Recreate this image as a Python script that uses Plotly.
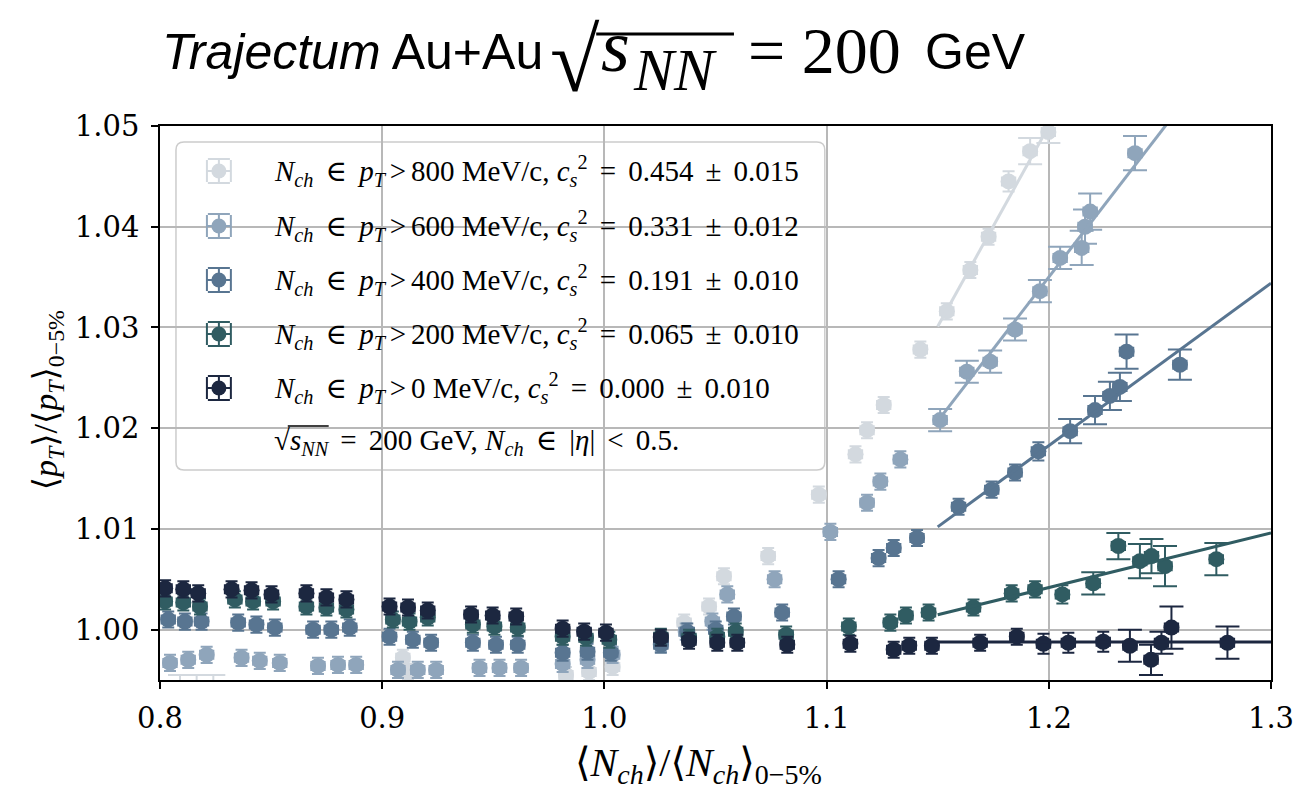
import plotly.graph_objects as go

# ---------------- data ----------------
labels = ["800", "600", "400", "200", "0"]
cs2_text = ["0.454 ± 0.015", "0.331 ± 0.012", "0.191 ± 0.010", "0.065 ± 0.010", "0.000 ± 0.010"]
colors = ["#d3d9df", "#8fa5bb", "#587591", "#305c62", "#1c2740"]

x_800 = [0.8090, 0.8165, 0.8240, 0.9093, 0.9116, 0.9827, 0.9931, 1.0037, 1.0359, 1.0471, 1.0538,
         1.0737, 1.0965, 1.1130, 1.1182, 1.1257, 1.1422, 1.1541, 1.1647, 1.1729, 1.1819, 1.1916, 1.1998]
y_800 = [0.9942, 0.9942, 0.9942, 0.9972, 0.9958, 0.9955, 0.9958, 0.9963, 1.0007, 1.0023, 1.0053,
         1.0073, 1.0134, 1.0174, 1.0198, 1.0223, 1.0278, 1.0316, 1.0357, 1.0390, 1.0445, 1.0475, 1.0494]
ye_800 = [0.0013, 0.0013, 0.0013, 0.0008, 0.0008, 0.0008, 0.0008, 0.0008, 0.0008, 0.0008, 0.0008,
          0.0008, 0.0008, 0.0008, 0.0008, 0.0008, 0.0008, 0.0008, 0.0008, 0.0008, 0.0010, 0.0013, 0.0011]

x_600 = [0.8045, 0.8127, 0.8210, 0.8367, 0.8449, 0.8539, 0.8711, 0.8801, 0.8883, 0.9071, 0.9160, 0.9243,
         0.9438, 0.9528, 0.9625, 0.9812, 0.9924, 1.0037, 1.0254, 1.0366, 1.0486, 1.0553, 1.0766, 1.1017,
         1.1182, 1.1242, 1.1332, 1.1511, 1.1631, 1.1736, 1.1848, 1.1960, 1.2051, 1.2148, 1.2163, 1.2186, 1.2388]
y_600 = [0.9967, 0.9970, 0.9975, 0.9972, 0.9969, 0.9967, 0.9964, 0.9965, 0.9965, 0.9960, 0.9960, 0.9960,
         0.9962, 0.9962, 0.9962, 0.9966, 0.9970, 0.9975, 0.9986, 0.9998, 1.0008, 1.0035, 1.0050, 1.0097,
         1.0126, 1.0147, 1.0169, 1.0208, 1.0256, 1.0266, 1.0298, 1.0336, 1.0369, 1.0379, 1.0400, 1.0415, 1.0473]
ye_600 = [0.0008, 0.0008, 0.0008, 0.0008, 0.0008, 0.0008, 0.0008, 0.0008, 0.0008, 0.0008, 0.0008, 0.0008,
          0.0008, 0.0008, 0.0008, 0.0008, 0.0008, 0.0008, 0.0008, 0.0008, 0.0008, 0.0008, 0.0008, 0.0008,
          0.0008, 0.0008, 0.0008, 0.0011, 0.0011, 0.0011, 0.0011, 0.0011, 0.0011, 0.0017, 0.0017, 0.0018, 0.0017]

x_400 = [0.8037, 0.8112, 0.8187, 0.8352, 0.8434, 0.8517, 0.8689, 0.8771, 0.8854, 0.9033, 0.9138, 0.9220,
         0.9408, 0.9512, 0.9610, 0.9812, 0.9924, 1.0029, 1.0254, 1.0373, 1.0501, 1.0583, 1.0800, 1.1054,
         1.1234, 1.1302, 1.1407, 1.1594, 1.1743, 1.1848, 1.1953, 1.2096, 1.2208, 1.2275, 1.2320, 1.2350, 1.2590]
y_400 = [1.0010, 1.0008, 1.0008, 1.0007, 1.0005, 1.0002, 1.0000, 1.0000, 1.0002, 0.9993, 0.9990, 0.9987,
         0.9987, 0.9985, 0.9985, 0.9977, 0.9978, 0.9977, 0.9985, 0.9998, 1.0000, 1.0013, 1.0017, 1.0050,
         1.0071, 1.0081, 1.0091, 1.0122, 1.0139, 1.0156, 1.0177, 1.0197, 1.0218, 1.0232, 1.0241, 1.0276, 1.0263]
ye_400 = [0.0008, 0.0008, 0.0008, 0.0008, 0.0008, 0.0008, 0.0008, 0.0008, 0.0008, 0.0008, 0.0008, 0.0008,
          0.0008, 0.0008, 0.0008, 0.0008, 0.0008, 0.0008, 0.0008, 0.0008, 0.0008, 0.0008, 0.0008, 0.0008,
          0.0008, 0.0008, 0.0008, 0.0008, 0.0008, 0.0008, 0.0009, 0.0012, 0.0014, 0.0014, 0.0014, 0.0017, 0.0015]

x_200 = [0.8023, 0.8105, 0.8180, 0.8337, 0.8419, 0.8509, 0.8659, 0.8749, 0.8839, 0.9048, 0.9123, 0.9205,
         0.9408, 0.9505, 0.9610, 0.9812, 0.9917, 1.0022, 1.0254, 1.0381, 1.0508, 1.0591, 1.0818, 1.1100,
         1.1287, 1.1357, 1.1459, 1.1661, 1.1833, 1.1938, 1.2061, 1.2200, 1.2313, 1.2410, 1.2462, 1.2523, 1.2754]
y_200 = [1.0028, 1.0027, 1.0023, 1.0030, 1.0028, 1.0028, 1.0023, 1.0022, 1.0020, 1.0010, 1.0008, 1.0012,
         1.0005, 1.0003, 1.0002, 0.9993, 0.9992, 0.9990, 0.9993, 0.9992, 0.9993, 0.9998, 0.9995, 1.0003,
         1.0007, 1.0014, 1.0017, 1.0022, 1.0036, 1.0040, 1.0035, 1.0046, 1.0083, 1.0068, 1.0073, 1.0063, 1.0070]
ye_200 = [0.0008, 0.0008, 0.0008, 0.0008, 0.0008, 0.0008, 0.0008, 0.0008, 0.0008, 0.0008, 0.0008, 0.0008,
          0.0008, 0.0008, 0.0008, 0.0008, 0.0008, 0.0008, 0.0008, 0.0008, 0.0008, 0.0008, 0.0008, 0.0008,
          0.0008, 0.0008, 0.0008, 0.0008, 0.0008, 0.0008, 0.0009, 0.0011, 0.0013, 0.0017, 0.0017, 0.0020, 0.0016]

x_0 = [0.8023, 0.8105, 0.8172, 0.8322, 0.8412, 0.8502, 0.8659, 0.8749, 0.8839, 0.9033, 0.9116, 0.9205,
       0.9400, 0.9497, 0.9603, 0.9812, 0.9909, 1.0007, 1.0254, 1.0381, 1.0508, 1.0598, 1.0823, 1.1107,
       1.1302, 1.1372, 1.1474, 1.1691, 1.1856, 1.1976, 1.2088, 1.2245, 1.2365, 1.2460, 1.2507, 1.2552, 1.2804]
y_0 = [1.0041, 1.0040, 1.0036, 1.0040, 1.0039, 1.0035, 1.0036, 1.0032, 1.0030, 1.0023, 1.0022, 1.0019,
       1.0015, 1.0014, 1.0013, 1.0001, 0.9998, 0.9997, 0.9992, 0.9989, 0.9987, 0.9987, 0.9985, 0.9986,
       0.9980, 0.9984, 0.9984, 0.9987, 0.9993, 0.9986, 0.9987, 0.9988, 0.9984, 0.9970, 0.9987, 1.0002, 0.9987]
ye_0 = [0.0008, 0.0008, 0.0008, 0.0008, 0.0008, 0.0008, 0.0008, 0.0008, 0.0008, 0.0008, 0.0008, 0.0008,
        0.0008, 0.0008, 0.0008, 0.0008, 0.0008, 0.0008, 0.0008, 0.0008, 0.0008, 0.0008, 0.0008, 0.0008,
        0.0008, 0.0008, 0.0008, 0.0008, 0.0008, 0.0010, 0.0010, 0.0010, 0.0016, 0.0015, 0.0011, 0.0021, 0.0016]

x_err = [0.0030, 0.0030, 0.0030, 0.0030, 0.0030]

# linear fits drawn from x = 1.15 to 1.30
fit_x = [1.15, 1.30]
fit_y0 = [1.0301, 1.0207, 1.0102, 1.00147, 0.99877]
fit_y1 = [1.0898, 1.0636, 1.0344, 1.0096, 0.99877]

xs = [x_800, x_600, x_400, x_200, x_0]
ys = [y_800, y_600, y_400, y_200, y_0]
yes = [ye_800, ye_600, ye_400, ye_200, ye_0]

xticks = [0.8, 0.9, 1.0, 1.1, 1.2, 1.3]
yticks = [1.00, 1.01, 1.02, 1.03, 1.04, 1.05]

# ---------------- figure ----------------
W, H = 1306, 793
ML, MR, MT, MB = 160, 33, 126, 113
PW, PH = W - ML - MR, H - MT - MB

def px_x(px):
    return (px - ML) / PW

def px_y(py):
    return (H - MB - py) / PH

fig = go.Figure()
serif = "Liberation Serif, DejaVu Serif, serif"
sans = "Liberation Sans, Arial, Helvetica, sans-serif"
sp = "\u2006"

for i in range(5):
    c = colors[i]
    # points with small errors (short caps) and larger errors (wide caps)
    for wide in (False, True):
        idx = [k for k in range(len(xs[i])) if (yes[i][k] >= 0.0011) == wide]
        if not idx:
            continue
        fig.add_trace(go.Scatter(
            x=[xs[i][k] for k in idx], y=[ys[i][k] for k in idx], mode="markers",
            marker=dict(size=16, color=c, line=dict(width=0)),
            error_y=dict(type="data", array=[yes[i][k] for k in idx], color=c, thickness=2,
                         width=12 if wide else 6),
            error_x=dict(type="constant", value=x_err[i], color=c, thickness=2, width=5),
            showlegend=False, hoverinfo="skip"))
    fig.add_trace(go.Scatter(
        x=fit_x, y=[fit_y0[i], fit_y1[i]], mode="lines",
        line=dict(color=c, width=3), showlegend=False, hoverinfo="skip"))

# ---------------- manual legend (matplotlib-style) ----------------
leg_rows_px = [171, 226, 280, 334, 388]
last_row_px = 442
bx0, bx1, by0, by1 = px_x(176), px_x(826), px_y(142), px_y(470)
rx, ry = 8 / PW, 8 / PH
path = (f"M {bx0+rx} {by0} L {bx1-rx} {by0} Q {bx1} {by0} {bx1} {by0-ry} "
        f"L {bx1} {by1+ry} Q {bx1} {by1} {bx1-rx} {by1} L {bx0+rx} {by1} "
        f"Q {bx0} {by1} {bx0} {by1+ry} L {bx0} {by0-ry} Q {bx0} {by0} {bx0+rx} {by0} Z")
fig.add_shape(type="path", path=path, xref="paper", yref="paper",
              fillcolor="rgba(255,255,255,0.8)", line=dict(color="#cccccc", width=1.5),
              layer="between")

for i in range(5):
    c = colors[i]
    fig.add_trace(go.Scatter(
        x=[px_x(219)], y=[px_y(leg_rows_px[i])], mode="markers", xaxis="x2", yaxis="y2",
        marker=dict(size=15, color=c),
        error_y=dict(type="constant", value=12 / PH, color=c, thickness=2, width=11),
        error_x=dict(type="constant", value=12 / PW, color=c, thickness=2, width=11),
        showlegend=False, hoverinfo="skip"))
    txt = (f"<i>N</i><sub><i>ch</i></sub> {sp}∈{sp} <i>p</i><sub><i>T</i></sub>{sp}>{sp}{labels[i]} MeV/c, "
           f"<i>c</i><sub><i>s</i></sub><sup>2</sup>{sp} ={sp} {cs2_text[i].replace('±', sp + '±' + sp)}")
    fig.add_annotation(x=px_x(272), y=px_y(leg_rows_px[i]), xref="paper", yref="paper",
                       text=txt, showarrow=False, xanchor="left", yanchor="middle",
                       font=dict(family=serif, size=29, color="black"))
fig.add_annotation(x=px_x(272), y=px_y(last_row_px), xref="paper", yref="paper",
                   text=(f"√<i>s</i><sub><i>NN</i></sub>{sp} ={sp} 200 GeV, <i>N</i><sub><i>ch</i></sub>"
                         f" {sp}∈{sp} |<i>η</i>|{sp} <{sp} 0.5."),
                   showarrow=False, xanchor="left", yanchor="middle",
                   font=dict(family=serif, size=29, color="black"))
# vinculum of the square root in the legend
fig.add_shape(type="line", xref="paper", yref="paper",
              x0=px_x(288), x1=px_x(329), y0=px_y(426), y1=px_y(426),
              line=dict(color="black", width=1.5))

# ---------------- title (pieces) ----------------
fig.add_annotation(x=px_x(545), y=px_y(52), xref="paper", yref="paper", xanchor="right", yanchor="middle",
                   text="<i>Trajectum</i> Au+Au", showarrow=False, borderpad=0,
                   font=dict(family=sans, size=50, color="black"))
fig.add_annotation(x=px_x(550), y=px_y(60), xref="paper", yref="paper", xanchor="left", yanchor="middle",
                   text="√", showarrow=False, borderpad=0,
                   font=dict(family=serif, size=90, color="black"))
fig.add_annotation(x=px_x(601), y=px_y(46), xref="paper", yref="paper", xanchor="left", yanchor="middle",
                   text="<i>s</i>", showarrow=False, borderpad=0,
                   font=dict(family=serif, size=74, color="black"))
fig.add_annotation(x=px_x(633), y=px_y(70), xref="paper", yref="paper", xanchor="left", yanchor="middle",
                   text="<i>NN</i>", showarrow=False, borderpad=0,
                   font=dict(family=serif, size=60, color="black"))
fig.add_annotation(x=px_x(748), y=px_y(50), xref="paper", yref="paper", xanchor="left", yanchor="middle",
                   text="= 200", showarrow=False, borderpad=0,
                   font=dict(family=serif, size=66, color="black"))
fig.add_annotation(x=px_x(925), y=px_y(52), xref="paper", yref="paper", xanchor="left", yanchor="middle",
                   text="GeV", showarrow=False, borderpad=0,
                   font=dict(family=sans, size=50, color="black"))
fig.add_shape(type="line", xref="paper", yref="paper",
              x0=px_x(597), x1=px_x(735), y0=px_y(34), y1=px_y(34),
              line=dict(color="black", width=3))

# ---------------- axis labels ----------------
fig.add_annotation(x=px_x(699), y=px_y(765), xref="paper", yref="paper",
                   text="⟨<i>N</i><sub><i>ch</i></sub>⟩/⟨<i>N</i><sub><i>ch</i></sub>⟩<sub>0−5%</sub>",
                   showarrow=False, xanchor="center", yanchor="middle",
                   font=dict(family=serif, size=40, color="black"))
fig.add_annotation(x=px_x(48), y=px_y(400), xref="paper", yref="paper",
                   text="⟨<i>p</i><sub><i>T</i></sub>⟩/⟨<i>p</i><sub><i>T</i></sub>⟩<sub>0−5%</sub>",
                   showarrow=False, textangle=-90, xanchor="center", yanchor="middle",
                   font=dict(family=serif, size=34, color="black"))

axis_common = dict(showline=True, mirror=True, linecolor="black", linewidth=1.5,
                   ticks="outside", ticklen=7, tickwidth=1.5, tickcolor="black",
                   showgrid=True, gridcolor="#b8b8b8", gridwidth=1.5, zeroline=False,
                   tickfont=dict(family="DejaVu Serif, serif", size=29, color="black"))
fig.update_layout(
    width=W, height=H, margin=dict(l=ML, r=MR, t=MT, b=MB),
    plot_bgcolor="white", paper_bgcolor="white",
    xaxis=dict(range=[0.8, 1.3], tickvals=xticks, ticktext=[f"{v:.1f}" for v in xticks],
               ticklabelstandoff=4, **axis_common),
    yaxis=dict(range=[0.995, 1.05], tickvals=yticks, ticktext=[f"{v:.2f}" for v in yticks],
               ticklabelstandoff=6, **axis_common),
    xaxis2=dict(overlaying="x", range=[0, 1], visible=False),
    yaxis2=dict(overlaying="y", range=[0, 1], visible=False),
    showlegend=False,
)

fig.write_html("out.html")
